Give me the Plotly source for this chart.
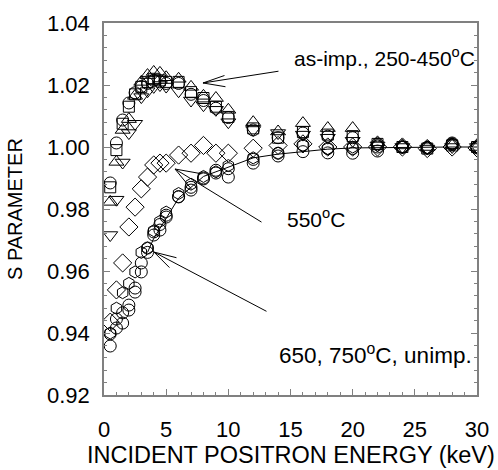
import plotly.graph_objects as go

E = [0.5, 1, 1.5, 2, 2.5, 3, 3.5, 4, 4.5, 5, 6, 7, 8, 9, 10, 12, 14, 16, 18, 20, 22, 24, 26, 28, 30]

# as-implanted, 250-450 C group
s_square = [0.987, 0.999, 1.0075, 1.013, 1.017, 1.0194, 1.021, 1.022, 1.0215, 1.021, 1.021, 1.0177, 1.0158, 1.013, 1.0097, 1.006, 1.003, 1.0048, 1.004, 1.0035, 1.001, 1.0, 0.9995, 1.0005, 1.0]
s_circle_a = [0.9884, 1.0013, 1.0087, 1.0142, 1.0175, 1.0195, 1.0205, 1.0215, 1.021, 1.0205, 1.0205, 1.017, 1.015, 1.0125, 1.0095, 1.0055, 1.003, 1.0045, 1.0035, 1.003, 1.001, 1.0, 0.9998, 1.0008, 1.0]
s_tri_up = [0.9823, 0.9952, 1.0055, 1.009, 1.0165, 1.021, 1.0232, 1.0242, 1.0239, 1.0225, 1.022, 1.0194, 1.0165, 1.0158, 1.012, 1.008, 1.005, 1.0077, 1.0061, 1.0061, 1.0015, 1.0005, 1.0, 1.0005, 1.0]
s_tri_down = [0.9716, 0.983, 0.995, 1.0045, 1.0075, 1.0161, 1.018, 1.0194, 1.02, 1.0195, 1.018, 1.015, 1.0135, 1.012, 1.008, 1.0055, 1.0045, 1.004, 1.003, 1.002, 1.0005, 1.0, 0.9995, 1.0, 1.0]

# 550 C
s_diamond = [0.9435, 0.9539, 0.9626, 0.9742, 0.9806, 0.9865, 0.9903, 0.9942, 0.9948, 0.9948, 0.9974, 0.998, 1.0005, 0.998, 0.998, 0.9996, 1.0005, 1.001, 1.0, 1.0, 1.0, 1.0, 0.9995, 1.0, 0.9997]

# 650, 750 C, unimplanted
s_circle_b = [0.9358, 0.9416, 0.9432, 0.9474, 0.9532, 0.9597, 0.966, 0.9716, 0.9732, 0.9774, 0.9839, 0.9861, 0.9897, 0.9916, 0.9903, 0.9948, 0.9971, 0.9985, 0.9981, 0.998, 0.9987, 0.9999, 0.9997, 1.0013, 0.9997]
s_circle_c = [0.9397, 0.9445, 0.9465, 0.949, 0.9545, 0.9626, 0.9674, 0.9726, 0.975, 0.978, 0.984, 0.987, 0.990, 0.9925, 0.993, 0.996, 0.998, 1.0006, 0.9995, 0.9995, 1.0, 1.0, 0.9998, 1.001, 1.0]
s_hexagon = [0.940, 0.948, 0.953, 0.956, 0.9597, 0.966, 0.9674, 0.973, 0.976, 0.979, 0.985, 0.988, 0.9905, 0.992, 0.994, 0.9965, 0.998, 1.0005, 0.9995, 1.0, 1.0005, 1.0, 0.9998, 1.001, 1.0]

E_line = [3.5, 4, 5, 6, 7, 8, 9, 10, 12, 14, 16, 18, 20, 22, 24, 26, 28, 30]
s_line = [0.966, 0.9705, 0.977, 0.9835, 0.987, 0.9905, 0.992, 0.9935, 0.9965, 0.9977, 0.9985, 0.9993, 0.9997, 0.9998, 1.0, 1.0, 1.0, 1.0]

FONT = "Liberation Sans, Arial, sans-serif"

fig = go.Figure()

fig.add_trace(go.Scatter(x=E_line, y=s_line, mode="lines",
                         line=dict(color="black", width=1), showlegend=False))

series = [
    (s_circle_b, "circle-open", 12),
    (s_circle_c, "circle-open", 12),
    (s_hexagon, "hexagon-open", 12),
    (s_diamond, "diamond-open", 14),
    (s_tri_down, "triangle-down-open", 13),
    (s_circle_a, "circle-open", 12),
    (s_square, "square-open", 11),
    (s_tri_up, "triangle-up-open", 13),
]
for s, sym, size in series:
    fig.add_trace(go.Scatter(
        x=E, y=s, mode="markers", showlegend=False,
        marker=dict(symbol=sym, size=size, color="black",
                    line=dict(color="black", width=1))))

# text labels
labels = [
    ("as-imp., 250-450<sup>o</sup>C", 22.6, 1.0290, 21),
    ("550<sup>o</sup>C", 17.06, 0.9771, 21),
    ("650, 750<sup>o</sup>C, unimp.", 21.8, 0.9332, 22.5),
]
for t, x, y, fs in labels:
    fig.add_annotation(x=x, y=y, text=t, showarrow=False,
                       font=dict(family=FONT, size=fs, color="black"))

# arrows: tip (data), shaft offset (px), barb offsets (px)
arrows = [
    (7.96, 1.02065, (77, -12), [(23, -8), (24, 4)]),
    (5.71, 0.9929, (88, 54), [(28, 5), (18, 22)]),
    (4.02, 0.9661, (114, 60), [(24, 6), (17, 17)]),
]
for x, y, shaft, barbs in arrows:
    for ax, ay in [shaft] + barbs:
        fig.add_annotation(x=x, y=y, ax=ax, ay=ay, axref="pixel", ayref="pixel",
                           text="", showarrow=True, arrowhead=0,
                           arrowwidth=1, arrowcolor="black", standoff=0)

# axis titles as paper annotations (fixed positions)
fig.add_annotation(x=0.5, y=-60 / 372, xref="paper", yref="paper",
                   text="INCIDENT POSITRON ENERGY (keV)", showarrow=False,
                   xanchor="center", yanchor="middle",
                   font=dict(family=FONT, size=23.5, color="black"))
fig.add_annotation(x=-89 / 373, y=0.5, xref="paper", yref="paper",
                   text="S PARAMETER", showarrow=False, textangle=-90,
                   xanchor="center", yanchor="middle",
                   font=dict(family=FONT, size=20, color="black"))

axis_common = dict(
    showgrid=False, zeroline=False, showline=True, linecolor="#808080",
    linewidth=1.5, ticks="inside", tickcolor="#808080", ticklen=6,
    tickfont=dict(family=FONT, size=22, color="black"), automargin=False,
)

fig.update_xaxes(range=[0, 30], dtick=5, tick0=0, mirror=True,
                 minor=dict(dtick=1, ticks="inside", ticklen=3, tickcolor="#808080"),
                 ticklabelstandoff=14,
                 **axis_common)
fig.update_yaxes(range=[0.92, 1.04], dtick=0.02, tick0=0.92, tickformat=".2f",
                 mirror="ticks",
                 minor=dict(dtick=0.004, ticks="inside", ticklen=3, tickcolor="#808080"),
                 ticklabelstandoff=8,
                 **axis_common)

fig.update_layout(
    width=498, height=470,
    margin=dict(l=104, r=21, t=23, b=75),
    plot_bgcolor="white", paper_bgcolor="white",
    font=dict(family=FONT, color="black"),
)

fig.write_html("out.html")
